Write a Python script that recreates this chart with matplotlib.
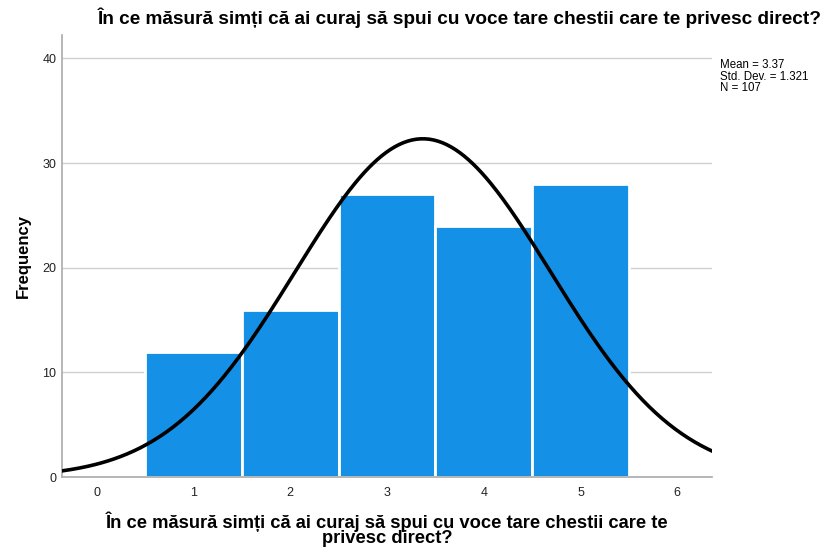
import numpy as np
import matplotlib.pyplot as plt

plt.rcParams['font.family'] = ['Liberation Sans Narrow', 'Liberation Sans', 'DejaVu Sans']

# histogram data read from the SPSS output
categories = [1, 2, 3, 4, 5]
counts = [12, 16, 27, 24, 28]
mean = 3.37
std = 1.321
n = 107
title = 'În ce măsură simți că ai curaj să spui cu voce tare chestii care te privesc direct?'
xlabel = 'În ce măsură simți că ai curaj să spui cu voce tare chestii care te\nprivesc direct?'

fig = plt.figure(figsize=(8.27, 5.51), dpi=100)
ax = fig.add_axes([0.075, 0.134, 0.786, 0.802])

ax.bar(categories, counts, width=1.0, color='#1490e6', edgecolor='white', linewidth=2, zorder=2)

xs = np.linspace(-0.36, 6.36, 300)
curve = n * 1.0 * np.exp(-0.5 * ((xs - mean) / std) ** 2) / (std * np.sqrt(2 * np.pi))
ax.plot(xs, curve, color='black', linewidth=2.6, zorder=3)

ax.set_xlim(-0.36, 6.36)
ax.set_ylim(0, 42.2)
ax.set_xticks(range(0, 7))
ax.set_yticks([0, 10, 20, 30, 40])
ax.yaxis.grid(True, color='#d0d0d0', linewidth=1, zorder=0)
ax.set_axisbelow(True)
for s in ['top', 'right']:
    ax.spines[s].set_visible(False)
for s in ['left', 'bottom']:
    ax.spines[s].set_color('#aaaaaa')
    ax.spines[s].set_linewidth(1.2)
ax.tick_params(length=0, labelsize=9, colors='#222222', pad=7)
ax.tick_params(axis='y', pad=4)

ax.set_ylabel('Frequency', fontsize=12, fontweight='bold', labelpad=8)
ax.set_xlabel(xlabel, fontsize=13.2, fontweight='bold', linespacing=0.85, labelpad=9)
fig.text(0.994, 0.967, title, ha='right', va='center', fontsize=13.7, fontweight='bold')
fig.text(0.871, 0.893, f'Mean = {mean}\nStd. Dev. = {std}\nN = {n}', ha='left', va='top',
         fontsize=8.3, linespacing=0.95)

fig.savefig('out.png', dpi=100)
